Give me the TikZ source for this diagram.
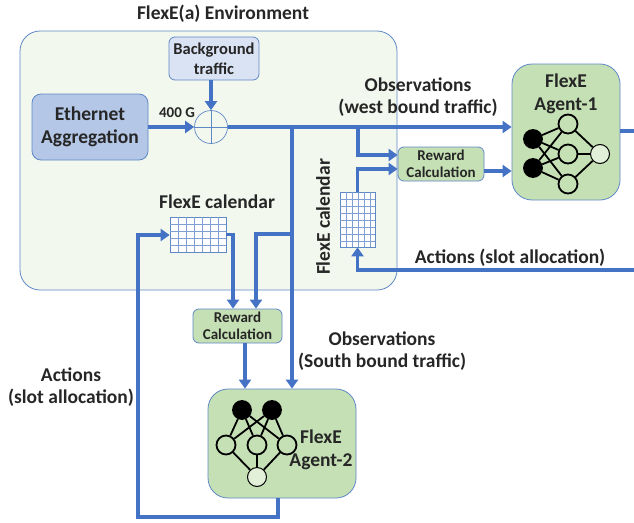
\documentclass[tikz,border=0pt]{standalone}
\usepackage{fontspec}
\setmainfont{Carlito}
\usetikzlibrary{arrows.meta, calc}

\definecolor{edgeblue}{HTML}{4472C4}
\definecolor{frameblue}{HTML}{5F88C6}
\definecolor{envfill}{HTML}{F3F8EF}
\definecolor{agentfill}{HTML}{C5E0B4}
\definecolor{aggfill}{HTML}{B4C7E7}
\definecolor{bgfill}{HTML}{DAE3F3}

\begin{document}
\begin{tikzpicture}[every text node part/.style={align=center}, x=1pt, y=-1pt]

\tikzstyle{lab}=[font=\fontsize{19.5}{22.5}\selectfont\bfseries, text=black!85]
\tikzstyle{small}=[font=\fontsize{15}{17.5}\selectfont\bfseries, text=black!85]
\tikzstyle{box}=[draw=frameblue, line width=0.8pt, rounded corners=6pt, inner sep=0pt]
\tikzstyle{reward}=[box, fill=agentfill, minimum width=86pt, minimum height=34pt]
\tikzstyle{agent}=[box, fill=agentfill, rounded corners=20pt]
\tikzstyle{edge}=[draw=edgeblue, line width=3.1pt]
\tikzstyle{arrow}=[edge, -{Triangle[length=9pt, width=12pt]}]
\tikzstyle{cal}=[draw=frameblue, line width=0.7pt, fill=white, inner sep=0pt]
\tikzstyle{calgrid}=[draw=frameblue!80, line width=0.5pt]
\tikzstyle{neuron}=[circle, draw=black, line width=1.8pt, fill=agentfill, minimum size=19pt, inner sep=0pt]
\tikzstyle{out neuron}=[neuron, line width=1pt, fill=agentfill!50]
\tikzstyle{black neuron}=[neuron, fill=black, minimum size=18pt]
\tikzstyle{syn}=[draw=black, line width=1.8pt]

\useasboundingbox (0,0) rectangle (634,522);

\node [box, fill=envfill, rounded corners=20pt, minimum width=377pt, minimum height=259pt] (env) at (208.5,160.5) {};
\node [lab] (envlabel) at (223,14) {FlexE(a) Environment};

\node [box, fill=aggfill, rounded corners=9pt, minimum width=116pt, minimum height=66pt, lab] (eth) at (90,127) {Ethernet\\Aggregation};
\node [box, fill=bgfill, minimum width=90pt, minimum height=43pt, font=\fontsize{16.5}{20}\selectfont\bfseries, text=black!85] (bg) at (214,58.5) {Background\\traffic};
\node [small] (rate) at (177,113) {400 G};
\node [circle, draw=frameblue, line width=0.7pt, fill=envfill, minimum size=33pt, inner sep=0pt] (sum) at (211,127) {};
\path [draw=frameblue, line width=0.7pt] (sum.north) -- (sum.south);
\path [draw=frameblue, line width=0.7pt] (sum.west) -- (sum.east);

\node [agent, minimum width=108pt, minimum height=136pt] (agent1) at (566,132) {};
\node [agent, minimum width=148pt, minimum height=109pt] (agent2) at (282,443.5) {};

\node [reward, small] (reward1) at (441,164) {Reward\\Calculation};
\node [reward, small, minimum width=89pt] (reward2) at (237.5,326) {Reward\\Calculation};

\node [cal, minimum width=56pt, minimum height=35pt] (cal1) at (198,234.5) {};
\foreach \gx in {178,186,...,218} \path [calgrid] (\gx,217) -- (\gx,252);
\foreach \gy in {224,231,...,245} \path [calgrid] (170,\gy) -- (226,\gy);
\node [cal, minimum width=35pt, minimum height=55pt] (cal2) at (357.5,219.5) {};
\foreach \gx in {346,352,...,370} \path [calgrid] (\gx,192) -- (\gx,247);
\foreach \gy in {199,206,...,241} \path [calgrid] (340,\gy) -- (375,\gy);

\node [lab] (cal1label) at (217,202) {FlexE calendar};
\node [lab, rotate=90] (cal2label) at (323,217) {FlexE calendar};
\node [lab] (obswest) at (418,97) {Observations\\(west bound traffic)};
\node [lab] (actwest) at (510,258) {Actions (slot allocation)};
\node [lab] (obssouth) at (382,351) {Observations\\(South bound traffic)};
\node [lab] (actsouth) at (71,387) {Actions\\(slot allocation)};

\coordinate (westjoin) at (358,127);
\coordinate (southjoin) at (292,127);
\coordinate (callink) at (292,234);
\coordinate (agent2out) at (278,517);
\coordinate (actwestend) at (634,270);
\coordinate (agent1end) at (634,131);

\path [arrow] (eth.east) -- (sum.west);
\path [arrow] (bg.south -| sum.north) -- (sum.north);
\path [edge] (sum.east) -- (southjoin);
\path [arrow] (southjoin) -- (westjoin) -- (westjoin -| agent1.west);
\path [arrow] (southjoin) -- (southjoin |- agent2.north);
\path [arrow] (westjoin) |- (reward1.west |- 0,155);
\path [arrow] (cal2.north) |- (reward1.west |- 0,169);
\path [arrow] (reward1.east |- 0,171) -- (agent1.west |- 0,171);
\path [edge] (agent1.east |- agent1end) -- (agent1end);
\path [arrow] (actwestend) -| (cal2.south);

\path [arrow] (cal1.east) -| (233,0 |- reward2.north);
\path [arrow] (callink) -| (256,0 |- reward2.north);
\path [arrow] (reward2.south -| 245,0) -- (245,0 |- agent2.north);
\path [arrow] (agent2.south -| agent2out) -- (agent2out) -| (138,235) -- (cal1.west |- 0,235);

\node [black neuron] (a1i1) at (533,139) {};
\node [black neuron] (a1i2) at (533,168) {};
\node [neuron] (a1h1) at (568,124) {};
\node [neuron] (a1h2) at (568,154) {};
\node [neuron] (a1h3) at (568,184) {};
\node [out neuron] (a1o) at (600,154) {};

\path [syn] (a1i1) -- (a1h1);
\path [syn] (a1i1) -- (a1h2);
\path [syn] (a1i1) -- (a1h3);
\path [syn] (a1i2) -- (a1h1);
\path [syn] (a1i2) -- (a1h2);
\path [syn] (a1i2) -- (a1h3);
\path [syn] (a1h1) -- (a1o);
\path [syn] (a1h2) -- (a1o);
\path [syn] (a1h3) -- (a1o);

\node [black neuron] (a2i1) at (242,410) {};
\node [black neuron] (a2i2) at (272,410) {};
\node [neuron] (a2h1) at (226,445) {};
\node [neuron] (a2h2) at (257,445) {};
\node [neuron] (a2h3) at (287,445) {};
\node [out neuron] (a2o) at (257,477) {};

\path [syn] (a2i1) -- (a2h1);
\path [syn] (a2i1) -- (a2h2);
\path [syn] (a2i1) -- (a2h3);
\path [syn] (a2i2) -- (a2h1);
\path [syn] (a2i2) -- (a2h2);
\path [syn] (a2i2) -- (a2h3);
\path [syn] (a2h1) -- (a2o);
\path [syn] (a2h2) -- (a2o);
\path [syn] (a2h3) -- (a2o);

\node [lab] (a1label) at (566,94) {FlexE\\Agent-1};
\node [lab] (a2label) at (321,450) {FlexE\\Agent-2};

\end{tikzpicture}
\end{document}
